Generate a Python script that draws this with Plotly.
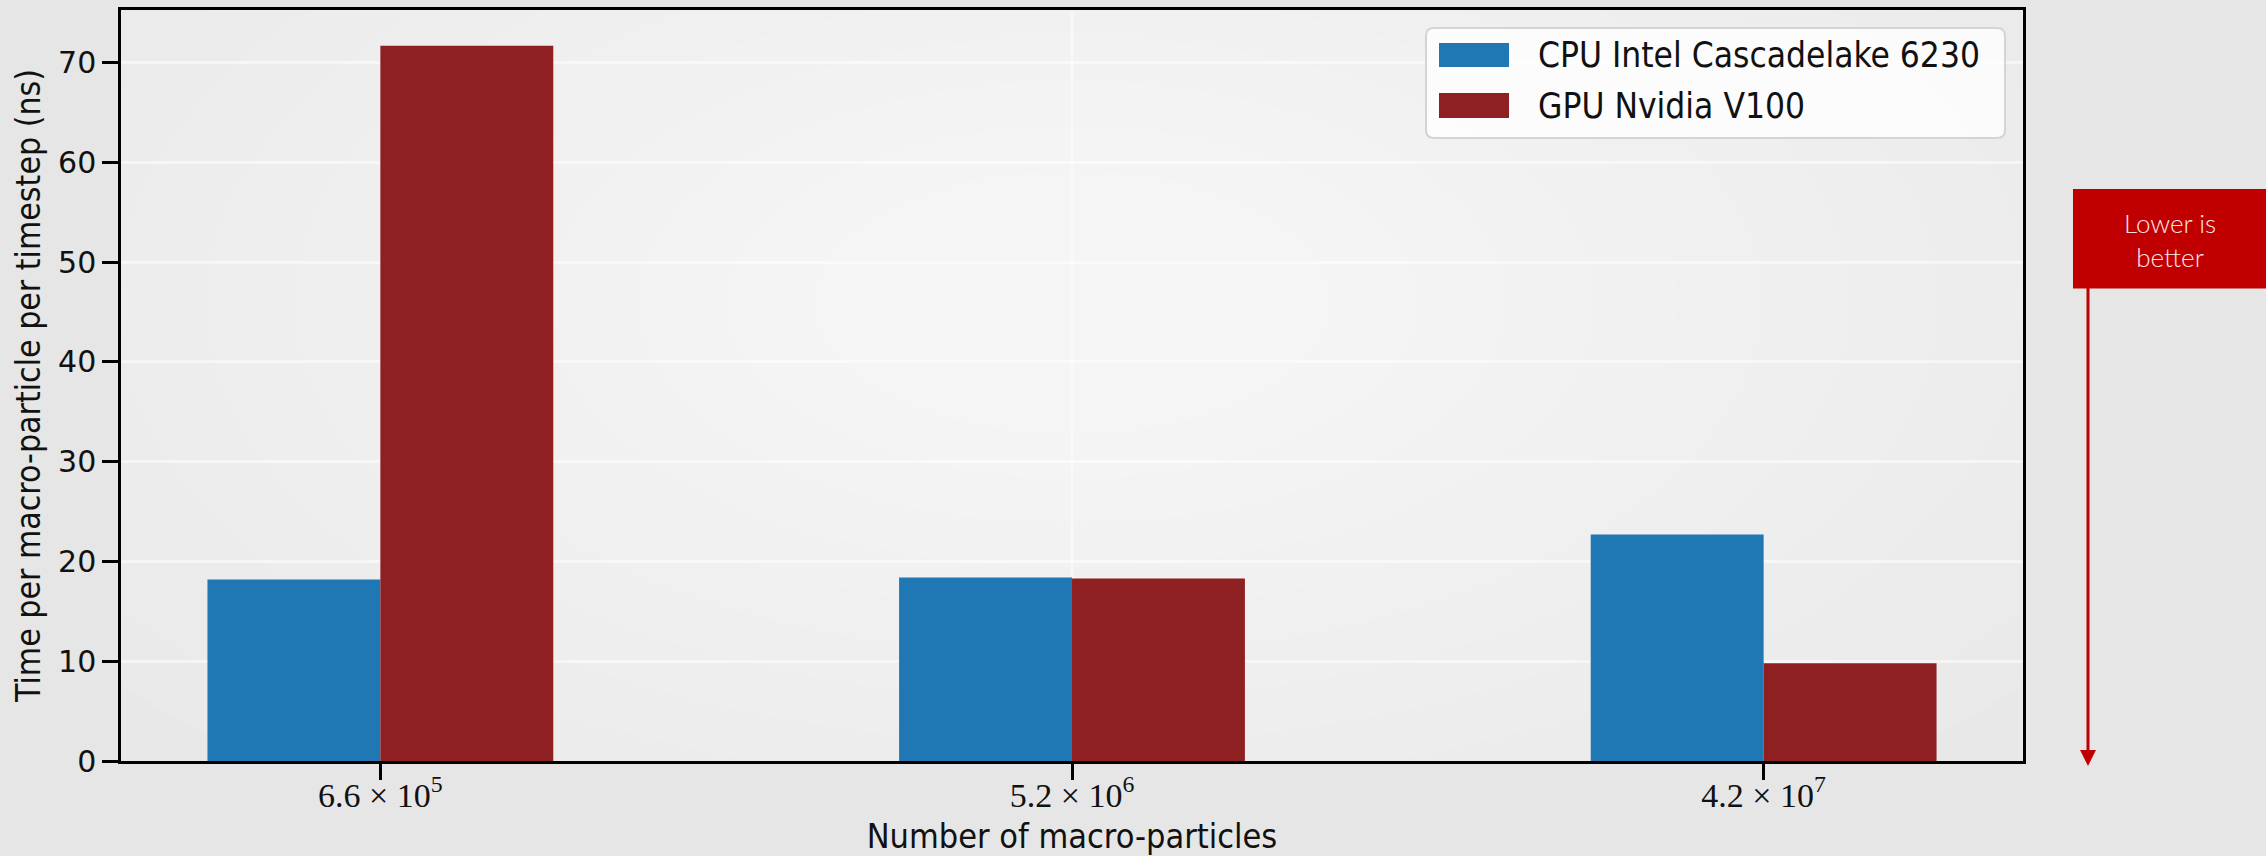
import plotly.graph_objects as go

# Benchmark data
categories = [0, 1, 2]
category_labels = ["6.6 × 10<sup>5</sup>", "5.2 × 10<sup>6</sup>", "4.2 × 10<sup>7</sup>"]
series_names = ["CPU Intel Cascadelake 6230", "GPU Nvidia V100"]
cpu_times = [18.2, 18.4, 22.7]
gpu_times = [71.7, 18.3, 9.8]
y_ticks = [0, 10, 20, 30, 40, 50, 60, 70]

CPU_COLOR = "#1f77b4"
GPU_COLOR = "#8f2022"
ACCENT = "#c00000"
COND = "DejaVu Sans Condensed, Roboto Condensed, Liberation Sans Narrow, Roboto, sans-serif"

W, H = 2266, 856
ML, MR, MT, MB = 121, 243, 10, 95
PW, PH = W - ML - MR, H - MT - MB


def px_x(px):
    return (px - ML) / PW


def px_y(py):
    return (H - MB - py) / PH


fig = go.Figure()
for name, vals, color in [(series_names[0], cpu_times, CPU_COLOR),
                          (series_names[1], gpu_times, GPU_COLOR)]:
    fig.add_trace(go.Bar(x=categories, y=vals, name=name,
                         marker=dict(color=color, line=dict(width=0)),
                         showlegend=False))

y_max = max(max(cpu_times), max(gpu_times)) * 1.05
x_range = [-0.375, 2.375]

shapes = []
# soft radial light in the plot area
n_rings = 14
for i in range(n_rings):
    f = 1 - i / n_rings
    rx = 1.75 * f
    ry = 62 * f
    cx, cy = 1.0, 46
    shapes.append(dict(type="circle", xref="x", yref="y", layer="below",
                       x0=cx - rx, x1=cx + rx, y0=cy - ry, y1=cy + ry,
                       fillcolor="white", opacity=0.085, line=dict(width=0)))
# faint vertical guide at the middle category
shapes.append(dict(type="line", xref="x", yref="y", layer="below",
                   x0=1, x1=1, y0=0, y1=y_max,
                   line=dict(color="rgba(255,255,255,0.45)", width=3)))

# legend box with rounded corners
lx0, lx1, ly0, ly1 = px_x(1426), px_x(2005), px_y(138), px_y(28)
rxp, ryp = 8 / PW, 8 / PH
legend_path = (f"M {lx0 + rxp},{ly1} L {lx1 - rxp},{ly1} Q {lx1},{ly1} {lx1},{ly1 - ryp} "
               f"L {lx1},{ly0 + ryp} Q {lx1},{ly0} {lx1 - rxp},{ly0} "
               f"L {lx0 + rxp},{ly0} Q {lx0},{ly0} {lx0},{ly0 + ryp} "
               f"L {lx0},{ly1 - ryp} Q {lx0},{ly1} {lx0 + rxp},{ly1} Z")
shapes.append(dict(type="path", xref="paper", yref="paper", path=legend_path,
                   fillcolor="rgba(255,255,255,0.8)", line=dict(color="#d4d4d4", width=2)))
legend_rows = [(43, 67, 55, CPU_COLOR), (93, 118, 105.5, GPU_COLOR)]
annotations = []
for (top, bot, mid, color), name in zip(legend_rows, series_names):
    shapes.append(dict(type="rect", xref="paper", yref="paper",
                       x0=px_x(1439), x1=px_x(1509), y0=px_y(bot), y1=px_y(top),
                       fillcolor=color, line=dict(width=0)))
    annotations.append(dict(xref="paper", yref="paper", x=px_x(1536), y=px_y(mid),
                            text=name, showarrow=False, xanchor="left", yanchor="middle",
                            font=dict(family=COND, size=35, color="#111111")))

# "Lower is better" callout with arrow
shapes.append(dict(type="rect", xref="paper", yref="paper",
                   x0=px_x(2073), x1=px_x(2266), y0=px_y(288.5), y1=px_y(189),
                   fillcolor=ACCENT, line=dict(width=0)))
ax_x = px_x(2088)
shapes.append(dict(type="line", xref="paper", yref="paper",
                   x0=ax_x, x1=ax_x, y0=px_y(288), y1=px_y(751),
                   line=dict(color=ACCENT, width=3)))
shapes.append(dict(type="path", xref="paper", yref="paper",
                   path=f"M {px_x(2080)},{px_y(750)} L {px_x(2096)},{px_y(750)} L {ax_x},{px_y(766)} Z",
                   fillcolor=ACCENT, line=dict(width=0)))
annotations.append(dict(xref="paper", yref="paper", x=px_x(2169.5), y=px_y(240),
                        text="Lower is<br>better", showarrow=False,
                        xanchor="center", yanchor="middle", align="center",
                        font=dict(family="Lato, Open Sans, sans-serif", size=26,
                                  color="#fbe6e6", weight=300)))

fig.update_layout(
    width=W, height=H,
    margin=dict(l=ML, r=MR, t=MT, b=MB, autoexpand=False),
    paper_bgcolor="#e6e6e6",
    plot_bgcolor="#e8e8e8",
    barmode="group", bargap=0.5, bargroupgap=0,
    showlegend=False,
    shapes=shapes,
    annotations=annotations,
    xaxis=dict(
        range=x_range, tickmode="array", tickvals=categories, ticktext=category_labels,
        showgrid=False, zeroline=False,
        showline=True, linecolor="black", linewidth=2.5, mirror=True,
        ticks="outside", ticklen=16, tickwidth=2.5, tickcolor="black",
        ticklabelstandoff=-14,
        tickfont=dict(family="Liberation Serif, DejaVu Serif, serif", size=34, color="#111111"),
        title=dict(text="Number of macro-particles", standoff=12,
                   font=dict(family=COND, size=34, color="#111111")),
    ),
    yaxis=dict(
        range=[0, y_max], tickmode="array", tickvals=y_ticks,
        showgrid=True, gridcolor="rgba(255,255,255,0.5)", gridwidth=3,
        zeroline=False,
        showline=True, linecolor="black", linewidth=2.5, mirror=True,
        ticks="outside", ticklen=16, tickwidth=2.5, tickcolor="black",
        tickfont=dict(family="DejaVu Sans, sans-serif", size=30, color="#111111"),
        title=dict(text="Time per macro-particle per timestep (ns)", standoff=8,
                   font=dict(family=COND, size=33.5, color="#111111")),
    ),
)

fig.write_html("out.html")
